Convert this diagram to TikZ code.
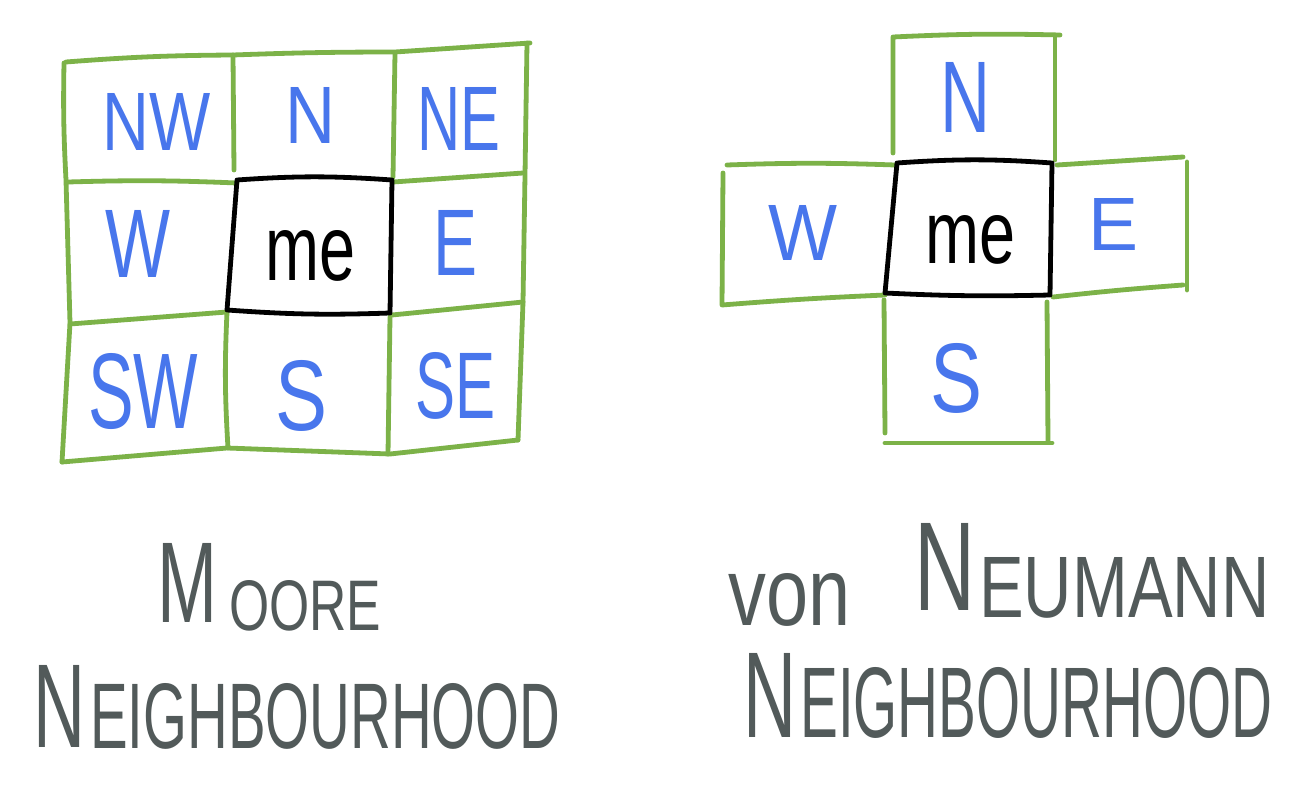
\documentclass[tikz,border=0pt]{standalone}
\usepackage{fontspec}
\usepackage{graphicx}
\setmainfont{Liberation Sans}
\definecolor{gridgreen}{RGB}{124,178,72}
\definecolor{labelblue}{RGB}{72,118,236}
\definecolor{titlegrey}{RGB}{82,90,90}
\newcommand{\fitt}[3]{\resizebox{#1pt}{#2pt}{#3}}
\tikzset{
  cell/.style={draw=gridgreen, line width=4.8pt, line cap=round, line join=round},
  mebox/.style={draw=black, line width=4.8pt, line cap=round, line join=round},
  lbl/.style={anchor=north west, inner sep=0pt, text=labelblue},
  melbl/.style={anchor=north west, inner sep=0pt, text=black},
  ttl/.style={anchor=north west, inner sep=0pt, text=titlegrey}
}
\begin{document}
\begin{tikzpicture}[x=1pt,y=-1pt]
\useasboundingbox[fill=white] (0,0) rectangle (1292,784);

% ---------------- Moore neighbourhood ----------------
% outer frame
\draw[cell] (66,62) to[bend left=2] (233,55) to[bend left=1] (395,52) -- (530,43);
\draw[cell] (64,63) to[bend right=2] (66,180) -- (70,323) -- (62,462);
\draw[cell] (527,43) -- (525,175) -- (523,302) -- (518,440);
\draw[cell] (62,462) -- (227,448) -- (390,454) -- (518,440);
% inner lines
\draw[cell] (68,182) to[bend left=2] (237,183);
\draw[cell] (393,182) -- (523,173);
\draw[cell] (70,324) -- (227,312);
\draw[cell] (392,315) -- (523,302);
\draw[cell] (233,55) -- (234,170);
\draw[cell] (395,53) -- (393,177);
\draw[cell] (227,312) to[bend right=3] (228,448);
\draw[cell] (390,317) -- (388,454);
% centre cell
\draw[mebox] (237,180) to[bend left=4] (392,180) -- (390,313) to[bend left=3] (227,310) -- cycle;

\node[lbl] (mNW) at (102,93)  {\fitt{108}{57}{NW}};
\node[lbl] (mN)  at (285,87)  {\fitt{50}{56}{N}};
\node[lbl] (mNE) at (417,87)  {\fitt{83}{63}{NE}};
\node[lbl] (mW)  at (105,210) {\fitt{65}{67}{W}};
\node[melbl] (mme) at (265,230) {\fitt{90}{50}{me}};
\node[lbl] (mE)  at (433,210) {\fitt{44}{65}{E}};
\node[lbl] (mSW) at (88,353)  {\fitt{110}{75}{SW}};
\node[lbl] (mS)  at (275,360) {\fitt{52}{70}{S}};
\node[lbl] (mSE) at (415,352) {\fitt{80}{66}{SE}};

% ---------------- von Neumann neighbourhood ----------------
% N cell
\draw[cell] (893,153) -- (893,37) to[bend left=2] (1060,35);
\draw[cell] (1055,37) -- (1055,160);
% W cell
\draw[cell] (727,165) to[bend left=2] (895,165);
\draw[cell] (723,173) -- (722,305) to[bend left=1] (885,295);
% E cell
\draw[cell] (1057,165) -- (1183,157);
\draw[cell] (1187,162) -- (1187,290);
\draw[cell] (1053,297) to[bend left=1] (1183,285);
% S cell
\draw[cell] (884,300) -- (885,433);
\draw[cell] (1047,302) -- (1048,442);
\draw[cell] (885,443) -- (1052,443);
% centre cell
\draw[mebox] (897,163) to[bend left=4] (1052,163) -- (1050,295) to[bend left=2] (885,293) -- cycle;

\node[lbl] (vN) at (940,62)  {\fitt{50}{70}{N}};
\node[lbl] (vW) at (768,205) {\fitt{69}{55}{W}};
\node[melbl] (vme) at (925,215) {\fitt{90}{48}{me}};
\node[lbl] (vE) at (1088,198) {\fitt{50}{52}{E}};
\node[lbl] (vS) at (930,343) {\fitt{52}{69}{S}};

% ---------------- titles ----------------
\node[ttl] (moore) at (157,543) {\fitt{60}{79}{M}\hspace{12pt}\raisebox{-8pt}{\fitt{152}{50}{OORE}}};
\node[ttl] (mneigh) at (33,665) {\fitt{52}{82}{N}\hspace{5pt}\raisebox{-1pt}{\fitt{470}{65}{EIGHBOURHOOD}}};
\node[ttl] (von) at (728,573) {\fitt{122}{52}{von}};
\node[ttl] (neumann) at (914,523) {\fitt{61}{87}{N}\hspace{4pt}\raisebox{-7pt}{\fitt{290}{60}{EUMANN}}};
\node[ttl] (vneigh) at (743,653) {\fitt{53}{84}{N}\hspace{4pt}\fitt{472}{70}{EIGHBOURHOOD}};
\end{tikzpicture}
\end{document}
